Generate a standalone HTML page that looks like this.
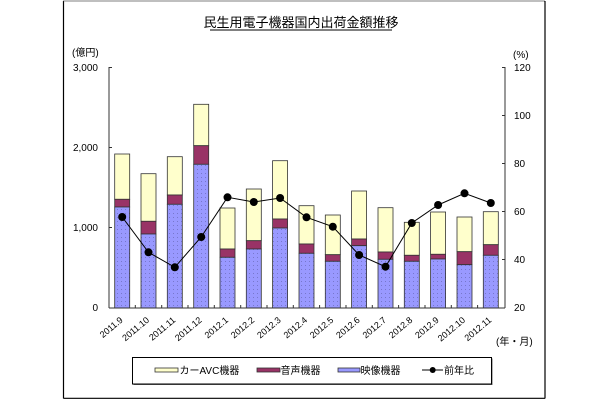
<!DOCTYPE html>
<html><head><meta charset="utf-8"><style>
html,body{margin:0;padding:0;background:#fff;}
svg{display:block;}
text{font-family:"Liberation Sans","Noto Sans CJK JP",sans-serif;fill:#000;}
</style></head><body>
<svg width="610" height="400" viewBox="0 0 610 400" xmlns="http://www.w3.org/2000/svg">
<defs>
<pattern id="dots" width="4" height="4" patternUnits="userSpaceOnUse">
<rect width="4" height="4" fill="#9999FF"/>
<rect x="1" y="1" width="1" height="1" fill="#7777cc"/>
</pattern>
</defs>
<rect x="0" y="0" width="610" height="400" fill="#fff"/>
<line x1="63.5" y1="1" x2="63.5" y2="398.5" stroke="#000" stroke-width="1.2"/>
<line x1="545" y1="1" x2="545" y2="398.5" stroke="#000" stroke-width="1.2"/>
<line x1="63.5" y1="398.3" x2="545" y2="398.3" stroke="#000" stroke-width="1.2"/>
<line x1="63.5" y1="1" x2="545" y2="1" stroke="#333" stroke-width="1.2" stroke-dasharray="1,1"/>

<text x="301" y="27" font-size="13" text-anchor="middle" font-family="'Noto Sans CJK JP',sans-serif">民生用電子機器国内出荷金額推移</text>
<line x1="210" y1="30" x2="392" y2="30" stroke="#000" stroke-width="1"/>

<text x="72" y="56" font-size="10">(億円)</text>
<text x="513" y="58" font-size="10">(%)</text>
<text x="496" y="345" font-size="10">(年・月)</text>

<line x1="109" y1="67" x2="109" y2="308" stroke="#333" stroke-width="1"/>
<g stroke="#333" stroke-width="1">
<line x1="109" y1="67.5" x2="112" y2="67.5"/>
<line x1="109" y1="147.5" x2="112" y2="147.5"/>
<line x1="109" y1="227.5" x2="112" y2="227.5"/>
</g>
<g font-size="10" text-anchor="end">
<text x="98" y="71">3,000</text>
<text x="98" y="151">2,000</text>
<text x="98" y="231">1,000</text>
<text x="98" y="311">0</text>
</g>

<line x1="505" y1="67" x2="505" y2="308" stroke="#333" stroke-width="1"/>
<g stroke="#333" stroke-width="1">
<line x1="502" y1="67.5" x2="505" y2="67.5"/>
<line x1="502" y1="115.5" x2="505" y2="115.5"/>
<line x1="502" y1="163.5" x2="505" y2="163.5"/>
<line x1="502" y1="211.5" x2="505" y2="211.5"/>
<line x1="502" y1="259.5" x2="505" y2="259.5"/>
</g>
<g font-size="10">
<text x="514" y="71">120</text>
<text x="514" y="119">100</text>
<text x="514" y="167">80</text>
<text x="514" y="215">60</text>
<text x="514" y="263">40</text>
<text x="514" y="311">20</text>
</g>

<g stroke="#333" stroke-width="0.8">
<rect x="114.7" y="154" width="15" height="45.3" fill="#FFFFCC"/>
<rect x="114.7" y="199.3" width="15" height="7.7" fill="#993366"/>
<rect x="114.7" y="207" width="15" height="101" fill="url(#dots)"/>
<rect x="141" y="173.7" width="15" height="47.6" fill="#FFFFCC"/>
<rect x="141" y="221.3" width="15" height="12.7" fill="#993366"/>
<rect x="141" y="234" width="15" height="74" fill="url(#dots)"/>
<rect x="167.3" y="156.7" width="15" height="38.3" fill="#FFFFCC"/>
<rect x="167.3" y="195" width="15" height="9.3" fill="#993366"/>
<rect x="167.3" y="204.3" width="15" height="103.7" fill="url(#dots)"/>
<rect x="193.7" y="104.3" width="15" height="41.4" fill="#FFFFCC"/>
<rect x="193.7" y="145.7" width="15" height="18.6" fill="#993366"/>
<rect x="193.7" y="164.3" width="15" height="143.7" fill="url(#dots)"/>
<rect x="220" y="208" width="15" height="41" fill="#FFFFCC"/>
<rect x="220" y="249" width="15" height="8.3" fill="#993366"/>
<rect x="220" y="257.3" width="15" height="50.7" fill="url(#dots)"/>
<rect x="246.3" y="189" width="15" height="51.7" fill="#FFFFCC"/>
<rect x="246.3" y="240.7" width="15" height="8.3" fill="#993366"/>
<rect x="246.3" y="249" width="15" height="59" fill="url(#dots)"/>
<rect x="272.6" y="160.7" width="15" height="58.3" fill="#FFFFCC"/>
<rect x="272.6" y="219" width="15" height="9" fill="#993366"/>
<rect x="272.6" y="228" width="15" height="80" fill="url(#dots)"/>
<rect x="299" y="205.7" width="15" height="38.3" fill="#FFFFCC"/>
<rect x="299" y="244" width="15" height="9.3" fill="#993366"/>
<rect x="299" y="253.3" width="15" height="54.7" fill="url(#dots)"/>
<rect x="325.3" y="215" width="15" height="39.7" fill="#FFFFCC"/>
<rect x="325.3" y="254.7" width="15" height="6.6" fill="#993366"/>
<rect x="325.3" y="261.3" width="15" height="46.7" fill="url(#dots)"/>
<rect x="351.6" y="191" width="15" height="48" fill="#FFFFCC"/>
<rect x="351.6" y="239" width="15" height="6.7" fill="#993366"/>
<rect x="351.6" y="245.7" width="15" height="62.3" fill="url(#dots)"/>
<rect x="378" y="207.7" width="15" height="44.3" fill="#FFFFCC"/>
<rect x="378" y="252" width="15" height="7.3" fill="#993366"/>
<rect x="378" y="259.3" width="15" height="48.7" fill="url(#dots)"/>
<rect x="404.3" y="222.3" width="15" height="33" fill="#FFFFCC"/>
<rect x="404.3" y="255.3" width="15" height="6" fill="#993366"/>
<rect x="404.3" y="261.3" width="15" height="46.7" fill="url(#dots)"/>
<rect x="430.6" y="212" width="15" height="42.3" fill="#FFFFCC"/>
<rect x="430.6" y="254.3" width="15" height="4.7" fill="#993366"/>
<rect x="430.6" y="259" width="15" height="49" fill="url(#dots)"/>
<rect x="457" y="217" width="15" height="34.7" fill="#FFFFCC"/>
<rect x="457" y="251.7" width="15" height="13" fill="#993366"/>
<rect x="457" y="264.7" width="15" height="43.3" fill="url(#dots)"/>
<rect x="483.3" y="211.7" width="15" height="33" fill="#FFFFCC"/>
<rect x="483.3" y="244.7" width="15" height="10.6" fill="#993366"/>
<rect x="483.3" y="255.3" width="15" height="52.7" fill="url(#dots)"/>
</g>

<line x1="109" y1="308" x2="505" y2="308" stroke="#333" stroke-width="1"/>
<g stroke="#333" stroke-width="1">
<line x1="135.3" y1="308" x2="135.3" y2="305"/>
<line x1="161.7" y1="308" x2="161.7" y2="305"/>
<line x1="188" y1="308" x2="188" y2="305"/>
<line x1="214.3" y1="308" x2="214.3" y2="305"/>
<line x1="240.7" y1="308" x2="240.7" y2="305"/>
<line x1="267" y1="308" x2="267" y2="305"/>
<line x1="293.3" y1="308" x2="293.3" y2="305"/>
<line x1="319.6" y1="308" x2="319.6" y2="305"/>
<line x1="346" y1="308" x2="346" y2="305"/>
<line x1="372.3" y1="308" x2="372.3" y2="305"/>
<line x1="398.6" y1="308" x2="398.6" y2="305"/>
<line x1="425" y1="308" x2="425" y2="305"/>
<line x1="451.3" y1="308" x2="451.3" y2="305"/>
<line x1="477.6" y1="308" x2="477.6" y2="305"/>
</g>

<polyline fill="none" stroke="#000" stroke-width="1" points="122.2,217 148.5,252.3 174.8,267.3 201.2,237 227.5,197.3 253.8,202 280.1,198 306.5,217.3 332.8,226.7 359.1,255 385.5,266.7 411.8,223 438.1,205 464.5,193.3 490.8,203"/>
<g fill="#000">
<circle cx="122.2" cy="217" r="4"/>
<circle cx="148.5" cy="252.3" r="4"/>
<circle cx="174.8" cy="267.3" r="4"/>
<circle cx="201.2" cy="237" r="4"/>
<circle cx="227.5" cy="197.3" r="4"/>
<circle cx="253.8" cy="202" r="4"/>
<circle cx="280.1" cy="198" r="4"/>
<circle cx="306.5" cy="217.3" r="4"/>
<circle cx="332.8" cy="226.7" r="4"/>
<circle cx="359.1" cy="255" r="4"/>
<circle cx="385.5" cy="266.7" r="4"/>
<circle cx="411.8" cy="223" r="4"/>
<circle cx="438.1" cy="205" r="4"/>
<circle cx="464.5" cy="193.3" r="4"/>
<circle cx="490.8" cy="203" r="4"/>
</g>

<g font-size="9" text-anchor="end">
<text transform="translate(123.5,321) rotate(-40)">2011.9</text>
<text transform="translate(149.8,321) rotate(-40)">2011.10</text>
<text transform="translate(176.1,321) rotate(-40)">2011.11</text>
<text transform="translate(202.5,321) rotate(-40)">2011.12</text>
<text transform="translate(228.8,321) rotate(-40)">2012.1</text>
<text transform="translate(255.1,321) rotate(-40)">2012.2</text>
<text transform="translate(281.4,321) rotate(-40)">2012.3</text>
<text transform="translate(307.8,321) rotate(-40)">2012.4</text>
<text transform="translate(334.1,321) rotate(-40)">2012.5</text>
<text transform="translate(360.4,321) rotate(-40)">2012.6</text>
<text transform="translate(386.8,321) rotate(-40)">2012.7</text>
<text transform="translate(413.1,321) rotate(-40)">2012.8</text>
<text transform="translate(439.4,321) rotate(-40)">2012.9</text>
<text transform="translate(465.8,321) rotate(-40)">2012.10</text>
<text transform="translate(492.1,321) rotate(-40)">2012.11</text>
</g>

<rect x="133.5" y="358.5" width="359" height="26.5" fill="#666"/>
<rect x="132.5" y="357.5" width="359" height="26.5" fill="#fff" stroke="#000" stroke-width="1"/>
<g stroke="#333" stroke-width="0.8">
<rect x="155" y="368" width="23" height="4" fill="#FFFFCC"/>
<rect x="257" y="368" width="23" height="4" fill="#993366"/>
<rect x="338" y="368" width="22" height="4" fill="#9999FF"/>
</g>
<line x1="422" y1="370" x2="443" y2="370" stroke="#000" stroke-width="1"/>
<circle cx="432.7" cy="370" r="3" fill="#000"/>
<g font-size="10">
<text x="179.5" y="374">カーAVC機器</text>
<text x="280.5" y="374">音声機器</text>
<text x="360.5" y="374">映像機器</text>
<text x="444" y="374">前年比</text>
</g>
</svg>
</body></html>
